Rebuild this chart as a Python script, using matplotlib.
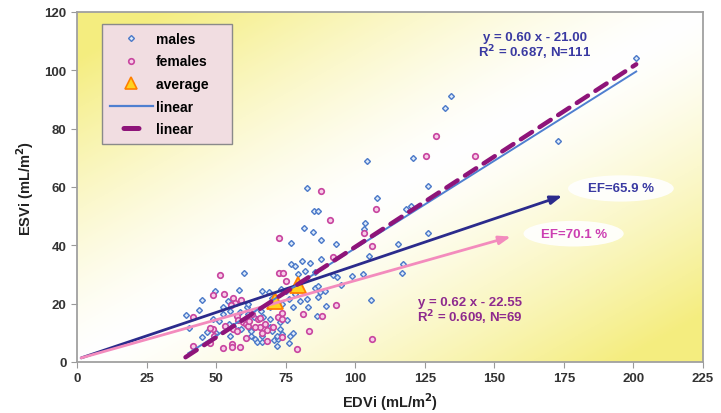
import matplotlib.pyplot as plt
import numpy as np
from matplotlib.lines import Line2D
from matplotlib.patches import Ellipse

# values
males_edvi = [
    200.8, 134.5, 132.4, 120.9, 172.9, 104.4, 126.0, 108.0, 118.3, 119.9,
    126.2, 82.6, 85.2, 86.7, 103.4, 103.3, 81.7, 84.9, 87.7, 76.9,
    93.1, 115.3, 80.7, 87.6, 83.8, 105.1, 76.9, 78.4, 117.3, 116.7,
    102.9, 105.6, 82.0, 85.5, 92.1, 93.3, 99.0, 94.9, 80.2, 82.6,
    85.5, 87.3, 86.7, 89.4, 86.2, 89.1, 83.2, 39.2, 40.3, 44.0,
    44.8, 44.9, 49.6, 54.4, 55.0, 58.1, 60.1, 61.0, 61.6, 61.6,
    52.6, 49.0, 51.1, 54.7, 56.2, 58.0, 59.0, 55.0, 62.5, 64.0,
    64.6, 66.6, 70.9, 71.8, 72.1, 76.1, 73.0, 73.6, 76.6, 77.8,
    63.6, 69.4, 75.4, 73.0, 73.6, 76.3, 77.8, 78.4, 66.1, 69.4,
    58.6, 49.9, 62.2, 52.4, 66.4, 69.1, 70.1, 79.5, 75.3, 73.5,
    62.4, 66.4, 67.0, 69.4, 70.0, 71.8, 46.6, 86.7,
]
males_esvi = [
    104.1, 91.3, 87.0, 70.1, 75.8, 69.0, 60.2, 56.2, 52.5, 53.6,
    44.2, 59.6, 51.8, 51.8, 47.8, 45.5, 45.8, 44.6, 41.7, 40.9,
    40.5, 40.3, 34.6, 35.3, 33.9, 36.3, 33.6, 32.8, 33.7, 30.6,
    30.3, 21.1, 31.3, 30.7, 29.9, 29.3, 29.5, 26.4, 21.0, 21.6,
    25.3, 23.9, 22.2, 19.3, 15.7, 24.5, 18.7, 16.1, 11.5, 17.7,
    21.1, 8.6, 24.4, 21.0, 17.4, 24.7, 30.6, 18.7, 19.9, 16.5,
    16.5, 14.7, 14.1, 13.0, 12.4, 11.0, 11.3, 9.0, 9.0, 7.9,
    6.7, 6.7, 7.5, 5.6, 7.9, 6.4, 11.3, 9.6, 8.8, 9.8,
    15.3, 14.7, 14.5, 13.6, 19.9, 21.6, 18.7, 23.3, 17.6, 18.7,
    17.0, 10.1, 11.3, 18.7, 24.3, 24.0, 22.0, 30.0, 24.5, 25.0,
    10.7, 9.0, 15.3, 12.1, 10.7, 9.0, 10.4, 26.2,
]

females_edvi = [
    128.9, 125.3, 142.9, 87.6, 107.5, 91.1, 103.3, 72.5, 106.2, 91.9,
    93.1, 81.3, 88.0, 83.5, 106.1, 79.1, 51.4, 72.6, 74.2, 75.1,
    49.0, 53.0, 56.2, 56.7, 59.0, 41.8, 49.0, 47.8, 49.2, 41.8,
    47.8, 52.6, 55.6, 55.6, 58.6, 60.6, 62.8, 64.9, 65.8, 67.6,
    68.4, 65.8, 68.4, 72.4, 73.6, 59.8, 60.8, 61.6, 57.4, 58.0,
    56.2, 57.4, 53.2, 73.6, 73.8, 55.2, 64.0, 70.5, 66.5, 62.0,
]
females_esvi = [
    77.6, 70.7, 70.5, 58.6, 52.3, 48.7, 44.2, 42.4, 39.9, 36.0,
    19.6, 16.5, 15.7, 10.7, 7.8, 4.5, 29.7, 30.6, 30.6, 27.7,
    23.0, 23.2, 21.9, 20.2, 21.1, 15.4, 11.3, 11.7, 9.0, 5.6,
    6.5, 4.7, 6.2, 5.2, 5.0, 8.2, 16.5, 14.7, 11.9, 13.0,
    11.0, 15.0, 7.3, 15.3, 14.7, 13.6, 13.0, 12.4, 15.6, 14.5,
    11.3, 10.7, 12.2, 8.4, 16.8, 19.5, 12.0, 12.0, 10.0, 14.0,
]

avg_edvi = [79.5, 71.0]
avg_esvi = [26.5, 21.0]

fit_male = (0.60, -21.00)
fit_female = (0.62, -22.55)
fit_male_x = [40, 201]
fit_female_x = [39, 201]

ef_male_x = [1.5, 174.5]
ef_male_y = [1.4, 57.0]
ef_female_x = [1.5, 156.0]
ef_female_y = [1.4, 43.0]

male_blue = "#4a78c8"
female_pink = "#c8449f"
navy = "#2b2b8c"
pink_line = "#f38bbd"
purple = "#8e1479"

plt.rcParams["font.family"] = ["Liberation Sans", "DejaVu Sans"]
plt.rcParams["font.weight"] = "bold"
plt.rcParams["axes.labelweight"] = "bold"

fig = plt.figure(figsize=(7.21, 4.14), dpi=100)
ax = fig.add_axes([0.1068, 0.1232, 0.8682, 0.8454])

ax.set_xlim(0, 225)
ax.set_ylim(0, 120)

# yellow corners, white diagonal band
u, v = np.meshgrid(np.linspace(0, 1, 300), np.linspace(0, 1, 200))
t = np.clip(np.abs(u - v) * 1.15, 0, 1) ** 1.35
yellow = np.array([0.96, 0.93, 0.50])
img = np.ones((200, 300, 3)) * (1 - t[..., None]) + yellow * t[..., None]
ax.imshow(img, extent=[0, 225, 0, 120], origin="lower", aspect="auto", zorder=0)

male_style = dict(marker="D", ms=3.0, mfc="#dce9f8", mec=male_blue, mew=1.0, ls="none")
female_style = dict(marker="o", ms=4.0, mfc="#f7cde8", mec=female_pink, mew=1.2, ls="none")
avg_style = dict(marker="^", ms=11, mfc="#ffd21f", mec="#ff7f00", mew=1.3, ls="none")

ax.plot(males_edvi, males_esvi, zorder=3, **male_style)
ax.plot(females_edvi, females_esvi, zorder=3, **female_style)
ax.plot(avg_edvi, avg_esvi, zorder=4, **avg_style)

arrow_kw = dict(arrowstyle="-|>,head_length=0.7,head_width=0.25", lw=2, shrinkA=0, shrinkB=0)
ax.annotate("", xy=(ef_male_x[1], ef_male_y[1]), xytext=(ef_male_x[0], ef_male_y[0]),
            arrowprops=dict(color=navy, **arrow_kw), zorder=5)
ax.annotate("", xy=(ef_female_x[1], ef_female_y[1]), xytext=(ef_female_x[0], ef_female_y[0]),
            arrowprops=dict(color=pink_line, **arrow_kw), zorder=5)

xm = np.array(fit_male_x)
xf = np.array(fit_female_x)
ax.plot(xm, fit_male[0] * xm + fit_male[1], color="#4f7fd0", lw=1.4, zorder=6)
ax.plot(xf, fit_female[0] * xf + fit_female[1], color=purple, lw=3.2,
        ls=(0, (3.0, 2.0)), dash_capstyle="round", zorder=7)

ax.add_patch(Ellipse((195.5, 59.5), 38, 9.0, color="white", alpha=0.9, lw=0, zorder=2))
ax.add_patch(Ellipse((178.5, 44.0), 36, 8.8, color="white", alpha=0.9, lw=0, zorder=2))
ax.text(195.5, 59.5, "EF=65.9 %", color="#3a3aa2", fontsize=9.5, fontweight="bold",
        ha="center", va="center", zorder=8)
ax.text(178.5, 44.0, "EF=70.1 %", color="#cc3fb2", fontsize=9.5, fontweight="bold",
        ha="center", va="center", zorder=8)

ax.text(164.6, 108.3, "y = 0.60 x - 21.00\nR$^\\mathbf{2}$ = 0.687, N=111", color="#3a3aa2",
        fontsize=9.5, fontweight="bold", ha="center", va="center", linespacing=1.0, zorder=8)
ax.text(141.3, 17.5, "y = 0.62 x - 22.55\nR$^\\mathbf{2}$ = 0.609, N=69", color="#8e2a8e",
        fontsize=9.5, fontweight="bold", ha="center", va="center", linespacing=1.0, zorder=8)

ax.set_xticks(np.arange(0, 226, 25))
ax.set_yticks(np.arange(0, 121, 20))
ax.tick_params(direction="out", length=4, color="#999999", labelsize=9.5,
               labelcolor="#333333")
for lab in ax.get_xticklabels() + ax.get_yticklabels():
    lab.set_fontweight("bold")
for s in ax.spines.values():
    s.set_color("#a0a0a0")
    s.set_linewidth(1.3)

ax.set_xlabel("EDVi (mL/m$^\\mathbf{2}$)", fontsize=10.5, color="#222222", labelpad=4)
ax.set_ylabel("ESVi (mL/m$^\\mathbf{2}$)", fontsize=10.5, color="#222222", labelpad=6)

handles = [
    Line2D([], [], **male_style),
    Line2D([], [], **female_style),
    Line2D([], [], marker="^", ms=8, mfc="#ffd21f", mec="#ff7f00", mew=1.2, ls="none"),
    Line2D([], [], color="#4f7fd0", lw=1.6),
    # one short dash centred in the handle, as in the reference legend
    Line2D([], [], color=purple, lw=3.6, ls=(10.3, (3, 10)), dash_capstyle="round"),
]
# trailing spaces widen the box to the reference's right padding
leg = ax.legend(handles, ["males", "females", "average    ", "linear", "linear"],
                loc="upper left", bbox_to_anchor=(0.04, 0.965),
                prop={"size": 10, "weight": "bold"},
                handlelength=3.1, labelspacing=0.62, borderpad=0.55, handletextpad=0.25,
                borderaxespad=0, fancybox=False, framealpha=1)
leg.get_frame().set_facecolor("#f1dde1")
leg.get_frame().set_edgecolor("#8a8a8a")
leg.set_zorder(10)

fig.savefig("out.png", dpi=100)
